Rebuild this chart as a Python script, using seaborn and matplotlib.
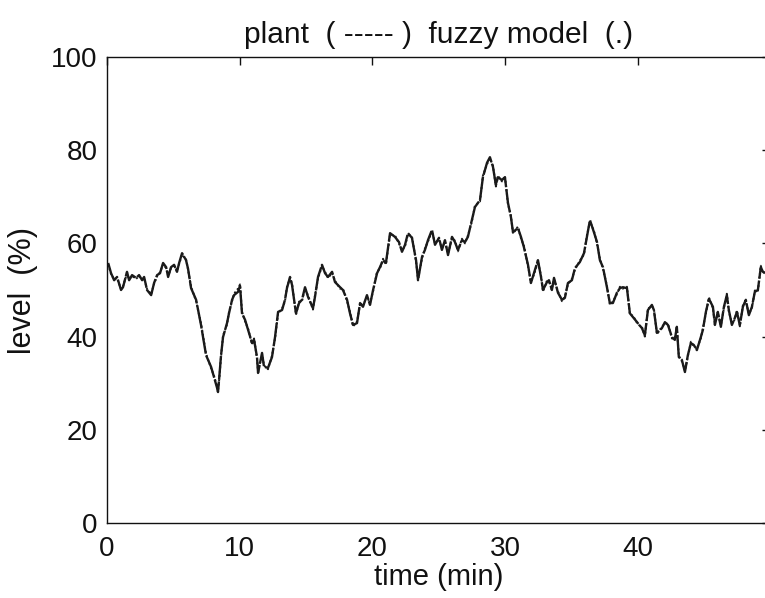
import numpy as np
import pandas as pd
import matplotlib
matplotlib.use("Agg")
import matplotlib.pyplot as plt
import seaborn as sns

# ---- data ----
time_min = [
    0.08, 0.30, 0.53, 0.75, 1.05, 1.20, 1.50, 1.66, 1.88, 2.19, 2.41, 2.64, 2.79, 3.01, 3.32,
    3.54, 3.77, 3.99, 4.22, 4.45, 4.60, 4.82, 5.05, 5.27, 5.43, 5.65, 5.95, 6.10, 6.33, 6.71,
    7.08, 7.46, 7.84, 8.06, 8.29, 8.36, 8.44, 8.59, 8.74, 9.04, 9.19, 9.42, 9.57, 9.87, 10.02,
    10.17, 10.40, 10.63, 10.93, 11.08, 11.30, 11.38, 11.68, 11.83, 12.13, 12.43, 12.66, 12.89,
    13.19, 13.41, 13.56, 13.79, 13.94, 14.24, 14.47, 14.69, 14.92, 15.15, 15.52, 15.67, 15.90,
    16.20, 16.43, 16.65, 16.96, 17.18, 17.56, 17.78, 18.09, 18.31, 18.54, 18.84, 19.07, 19.29,
    19.59, 19.82, 20.05, 20.35, 20.57, 20.80, 21.02, 21.33, 21.70, 22.00, 22.23, 22.46, 22.68,
    22.98, 23.29, 23.44, 23.74, 23.96, 24.19, 24.49, 24.72, 25.02, 25.24, 25.47, 25.70, 26.00,
    26.22, 26.45, 26.75, 26.98, 27.20, 27.50, 27.73, 28.11, 28.33, 28.64, 28.86, 29.09, 29.31,
    29.46, 29.77, 29.99, 30.22, 30.44, 30.60, 30.97, 31.20, 31.42, 31.73, 31.95, 32.18, 32.48,
    32.71, 32.86, 33.16, 33.31, 33.53, 33.69, 33.99, 34.29, 34.51, 34.74, 35.04, 35.27, 35.64,
    35.95, 36.17, 36.40, 36.70, 36.93, 37.15, 37.38, 37.68, 37.90, 38.13, 38.43, 38.66, 38.88,
    39.19, 39.41, 39.64, 40.02, 40.32, 40.54, 40.77, 41.07, 41.22, 41.45, 41.82, 42.05, 42.28,
    42.58, 42.80, 42.95, 43.10, 43.33, 43.56, 43.78, 44.01, 44.23, 44.46, 44.76, 44.91, 45.14,
    45.37, 45.67, 45.82, 46.04, 46.27, 46.50, 46.72, 46.87, 47.10, 47.32, 47.48, 47.70, 47.93,
    48.15, 48.38, 48.61, 48.83, 49.06, 49.28, 49.44, 49.59,
]

plant_level = [
    55.8, 53.6, 52.1, 52.8, 50.0, 50.6, 53.9, 52.1, 53.2, 52.6, 53.2, 52.1, 52.8, 50.0, 48.9,
    51.5, 53.2, 53.6, 55.8, 54.9, 52.8, 54.9, 55.4, 53.9, 55.8, 57.9, 56.4, 54.6, 50.4, 47.9,
    42.5, 36.0, 33.5, 31.3, 29.0, 28.1, 30.7, 36.0, 39.9, 42.9, 45.0, 47.9, 48.9, 49.6, 50.9,
    45.0, 43.6, 41.4, 38.6, 39.3, 35.6, 32.2, 36.5, 33.5, 33.3, 35.6, 39.9, 45.3, 45.7, 47.9,
    50.4, 52.8, 51.1, 45.0, 47.2, 47.9, 50.6, 48.5, 46.1, 48.5, 52.8, 55.4, 53.6, 52.8, 53.9,
    51.7, 50.6, 50.0, 47.9, 45.0, 42.5, 42.9, 47.2, 46.4, 48.9, 46.8, 50.0, 53.6, 54.9, 56.4,
    55.8, 62.2, 61.4, 60.3, 58.2, 59.7, 62.2, 61.2, 56.4, 52.1, 57.1, 58.6, 60.7, 62.9, 59.7,
    61.2, 58.6, 60.7, 57.5, 61.4, 60.3, 58.6, 60.7, 60.3, 61.4, 65.0, 67.8, 69.3, 74.2, 77.3,
    78.5, 76.4, 72.5, 74.2, 73.6, 74.2, 68.7, 65.7, 62.4, 63.3, 61.4, 59.2, 55.4, 51.5, 53.6,
    56.4, 52.8, 50.0, 51.7, 52.1, 50.0, 52.6, 49.4, 47.9, 48.3, 51.5, 52.1, 54.7, 56.0, 57.9,
    61.4, 65.0, 62.4, 60.3, 56.4, 54.9, 50.6, 47.2, 47.2, 49.4, 50.4, 50.6, 50.4, 45.0, 44.2,
    42.9, 41.8, 40.3, 45.7, 46.8, 45.7, 40.8, 41.8, 43.1, 42.5, 39.9, 39.3, 42.1, 35.6, 35.0,
    32.4, 36.0, 38.6, 38.2, 37.1, 39.9, 41.4, 45.3, 48.1, 46.4, 42.5, 45.3, 42.1, 46.4, 48.9,
    45.7, 42.5, 44.0, 45.3, 42.5, 46.4, 47.9, 44.6, 46.4, 49.6, 50.0, 54.9, 53.9, 53.6,
]

model_level = [
    55.5, 53.4, 52.3, 52.6, 50.2, 50.8, 53.6, 52.3, 53.0, 52.4, 53.0, 52.3, 52.6, 50.2, 49.1,
    51.3, 53.0, 53.8, 55.5, 54.7, 53.0, 54.7, 55.2, 54.1, 55.6, 57.6, 56.6, 54.4, 50.7, 47.6,
    42.8, 36.3, 33.2, 31.6, 29.3, 28.4, 30.4, 35.7, 40.2, 42.6, 45.3, 47.6, 49.2, 50.3, 51.2,
    45.3, 43.3, 41.7, 38.3, 39.6, 35.3, 32.5, 36.2, 33.8, 33.0, 35.9, 39.6, 45.0, 46.0, 47.6,
    50.7, 52.5, 51.4, 44.7, 47.5, 47.6, 50.3, 48.8, 45.8, 48.8, 52.5, 55.1, 53.9, 52.6, 53.6,
    52.0, 50.3, 50.3, 47.6, 45.3, 42.2, 43.2, 46.9, 46.7, 48.6, 47.1, 49.7, 53.9, 54.6, 56.7,
    55.5, 61.9, 61.7, 60.0, 58.5, 59.4, 62.0, 61.5, 56.1, 52.4, 56.8, 58.9, 60.4, 62.6, 60.0,
    60.9, 58.9, 60.4, 57.8, 61.1, 60.6, 58.3, 61.0, 60.0, 61.7, 64.7, 68.1, 69.0, 74.5, 77.0,
    78.2, 76.7, 72.2, 74.5, 73.3, 74.5, 68.4, 66.0, 62.1, 63.6, 61.1, 59.5, 55.1, 51.8, 53.3,
    56.1, 53.1, 49.7, 52.0, 51.8, 50.3, 52.3, 49.7, 47.6, 48.6, 51.2, 52.4, 54.4, 56.3, 57.6,
    61.7, 64.7, 62.7, 60.0, 56.7, 54.6, 50.9, 46.9, 47.5, 49.1, 50.7, 50.3, 50.7, 44.7, 44.5,
    42.6, 42.1, 40.0, 46.0, 46.5, 46.0, 40.5, 42.1, 42.8, 42.8, 39.6, 39.6, 41.8, 35.9, 34.7,
    32.7, 35.7, 38.9, 37.9, 37.4, 39.6, 41.7, 45.0, 48.4, 46.1, 42.8, 45.0, 42.4, 46.1, 49.2,
    45.4, 42.8, 43.7, 45.6, 42.2, 46.7, 47.6, 44.9, 46.1, 49.9, 49.7, 55.2, 53.6, 53.9,
]

x_ticks = [0, 10, 20, 30, 40]
y_ticks = [0, 20, 40, 60, 80, 100]

df = pd.DataFrame({"time": time_min, "plant": plant_level, "model": model_level})

sns.set_theme(style="white")
plt.rcParams["font.family"] = ["Liberation Sans", "DejaVu Sans"]

fig = plt.figure(figsize=(7.65, 5.98), dpi=100)
ax = fig.add_axes([0.14, 0.1254, 0.867, 0.7793])

sns.lineplot(data=df, x="time", y="plant", ax=ax, color="#1a1a1a",
             linewidth=1.7, linestyle=(0, (10, 0.8)), estimator=None, sort=False)
sns.lineplot(data=df, x="time", y="model", ax=ax, color="#1a1a1a",
             linewidth=1.4, linestyle=(0, (1, 1.2)), estimator=None, sort=False)

ax.set_xlim(0, 50)
ax.set_ylim(0, 100)
ax.set_xticks(x_ticks)
ax.set_yticks(y_ticks)
ax.tick_params(direction="in", length=6, width=1, colors="#111111",
               labelsize=20, top=True, right=True)
ax.tick_params(axis="x", pad=9)
ax.tick_params(axis="y", pad=7)
for s in ax.spines.values():
    s.set_color("#111111")
    s.set_linewidth(1.0)
    s.set_visible(True)

ax.set_xlabel("time (min)", fontsize=21, labelpad=1, color="#111111")
ax.set_ylabel("level  (%)", fontsize=22, labelpad=9, color="#111111")
ax.set_title("plant  ( ----- )  fuzzy model  (.)", fontsize=21.5, pad=10, color="#111111")

fig.savefig("out.png", dpi=100)
